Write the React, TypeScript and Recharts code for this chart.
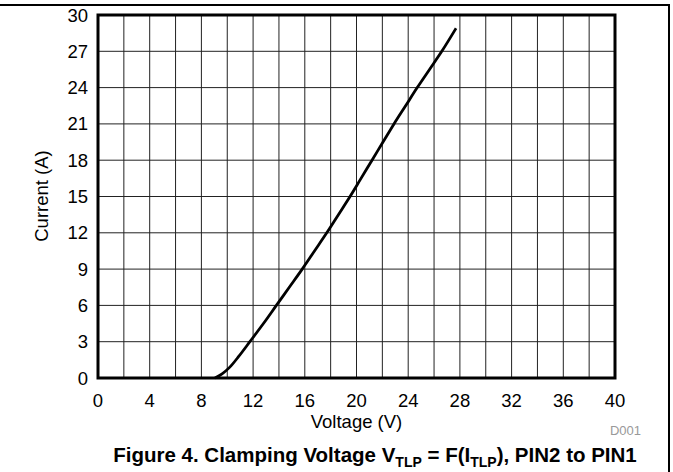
import React from 'react';
import { LineChart, Line, XAxis, YAxis, CartesianGrid, ReferenceArea } from 'recharts';

// TLP curve
const voltage = [9.05, 9.6, 10.2, 10.9, 11.75, 12.8, 13.8, 14.8, 15.8, 16.75, 17.7, 18.6, 19.5, 20.35, 21.2, 22.05, 22.9, 23.8, 24.7, 25.65, 26.6, 27.7];
const current = [0, 0.35, 0.9, 1.8, 3, 4.5, 6, 7.5, 9, 10.5, 12, 13.5, 15, 16.5, 18, 19.5, 21, 22.5, 24, 25.5, 27, 28.9];

const xTicks = [0, 2, 4, 6, 8, 10, 12, 14, 16, 18, 20, 22, 24, 26, 28, 30, 32, 34, 36, 38, 40];
const yTicks = [0, 3, 6, 9, 12, 15, 18, 21, 24, 27, 30];

const data = voltage.map((v, i) => ({ v, i: current[i] }));

const font = '"Liberation Sans", Arial, sans-serif';
const subStyle: React.CSSProperties = { fontSize: 14, verticalAlign: -5, lineHeight: 0 };

const App: React.FC = () => {
  return (
    <div style={{ position: 'absolute', left: 0, top: 0, width: 673, height: 472, background: '#fff', fontFamily: font, color: '#000' }}>
      <div style={{ position: 'absolute', left: 0, top: 4, width: 668, height: 468, borderTop: '2px solid #000', borderRight: '2px solid #000' }} />
      <LineChart width={673} height={472} data={data} margin={{ top: 15, right: 58, left: 48, bottom: 64 }}>
        <CartesianGrid stroke="#222" strokeWidth={1} />
        <XAxis
          dataKey="v"
          type="number"
          domain={[0, 40]}
          ticks={xTicks}
          interval={0}
          height={30}
          tickSize={0}
          tickMargin={16}
          axisLine={false}
          tickFormatter={(t: number) => (t % 4 === 0 ? String(t) : '')}
          tick={{ fill: '#000', fontSize: 18.5, fontFamily: font }}
        />
        <YAxis
          type="number"
          domain={[0, 30]}
          ticks={yTicks}
          interval={0}
          width={50}
          tickSize={0}
          tickMargin={10}
          axisLine={false}
          tick={{ fill: '#000', fontSize: 18.5, fontFamily: font }}
        />
        <ReferenceArea x1={0} x2={40} y1={0} y2={30} fill="none" fillOpacity={0} stroke="#000" strokeWidth={3} />
        <Line dataKey="i" type="monotone" stroke="#000" strokeWidth={2.8} dot={false} isAnimationActive={false} />
      </LineChart>
      <div style={{ position: 'absolute', left: 42, top: 196, width: 0, height: 0 }}>
        <div style={{ position: 'absolute', left: 0, top: 0, transform: 'translate(-50%, -50%) rotate(-90deg)', whiteSpace: 'nowrap', fontSize: 18.5 }}>
          Current (A)
        </div>
      </div>
      <div style={{ position: 'absolute', left: 98, width: 517, top: 411, textAlign: 'center', fontSize: 18.5, lineHeight: '22px' }}>
        Voltage (V)
      </div>
      <div style={{ position: 'absolute', right: 32, top: 423, fontSize: 13, color: '#999', lineHeight: '16px' }}>D001</div>
      <div style={{ position: 'absolute', left: -25, width: 800, top: 443, textAlign: 'center', fontSize: 20.5, fontWeight: 'bold', lineHeight: '24px', whiteSpace: 'nowrap' }}>
        Figure 4. Clamping Voltage V<sub style={subStyle}>TLP</sub> = F(I<sub style={subStyle}>TLP</sub>), PIN2 to PIN1
      </div>
    </div>
  );
};

export default App;
